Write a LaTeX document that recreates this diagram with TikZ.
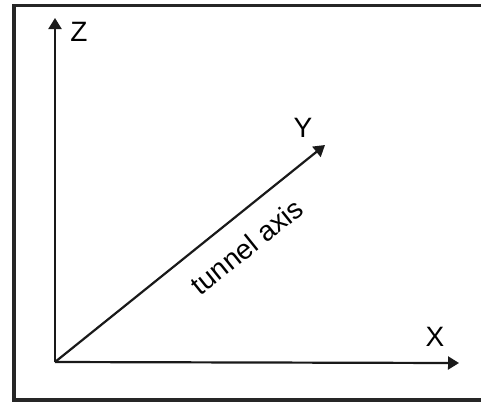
\documentclass[tikz,border=0pt]{standalone}
\usepackage{fontspec}
\setmainfont{Liberation Sans}
\usetikzlibrary{arrows.meta}

\begin{document}
\begin{tikzpicture}[x=0.5pt, y=-0.5pt, font=\fontsize{14}{16}\selectfont, >={Triangle[length=5.5pt, width=6.5pt]}]

    % --- styles ---
    \tikzset{
        axis/.style={->, line width=1.1pt, draw=black!90},
        frame/.style={line width=1.6pt, draw=black!85},
        axislabel/.style={inner sep=0pt}
    }

    \useasboundingbox (0,0) rectangle (481,403);

    % --- frame (right side cut off) ---
    \draw[frame] (490,5.5) -- (14,5.5) -- (14,400) -- (490,400);

    % --- axis end points ---
    \coordinate (O)    at (55,362);
    \coordinate (Zend) at (55,18);
    \coordinate (Xend) at (459,363);
    \coordinate (Yend) at (325,145);

    % --- axes ---
    \draw[axis] (O) -- (Zend);
    \draw[axis] (O) -- (Xend);
    \draw[axis] (O) -- (Yend)
        node[pos=0.64, sloped, below=6pt] (tunnel) {tunnel axis};

    % --- labels ---
    \node[axislabel] (zlabel) at (79,32)  {Z};
    \node[axislabel] (xlabel) at (435,337) {X};
    \node[axislabel] (ylabel) at (303,128) {Y};

\end{tikzpicture}
\end{document}
